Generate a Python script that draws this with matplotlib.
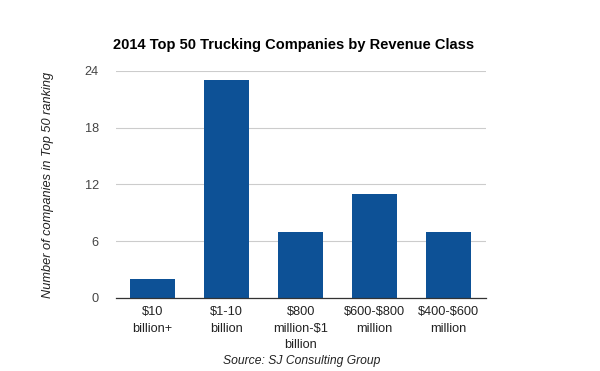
import matplotlib.pyplot as plt

plt.rcParams['font.family'] = ['Liberation Sans', 'DejaVu Sans']
plt.rcParams['text.parse_math'] = False

categories = ["$10\nbillion+", "$1-10\nbillion", "$800\nmillion-$1\nbillion",
              "$600-$800\nmillion", "$400-$600\nmillion"]
counts = [2, 23, 7, 11, 7]
yticks = [0, 6, 12, 18, 24]

fig = plt.figure(figsize=(6, 3.71), dpi=100)
ax = fig.add_axes([0.1925, 0.1968, 0.617, 0.612])

x = range(len(categories))
ax.bar(x, counts, width=0.61, color="#0d5196", zorder=3)

ax.set_xlim(-0.5, len(categories) - 0.5)
ax.set_ylim(0, 24)
ax.set_yticks(yticks)
ax.set_xticks(list(x))
ax.set_xticklabels(categories, fontsize=9.2, color="#222222", linespacing=1.5)
ax.tick_params(axis='y', labelsize=9.2, labelcolor="#444444", length=0, pad=12)
ax.tick_params(axis='x', length=0, pad=6)
ax.grid(axis='y', color="#cccccc", linewidth=0.8, zorder=0)
for s in ['top', 'right', 'left']:
    ax.spines[s].set_visible(False)
ax.spines['bottom'].set_color("#333333")
ax.spines['bottom'].set_linewidth(0.9)
ax.spines['bottom'].set_zorder(4)

ax.set_ylabel("Number of companies in Top 50 ranking", fontsize=9.2,
              style='italic', color="#222222", labelpad=22)

fig.text(0.49, 0.878, "2014 Top 50 Trucking Companies by Revenue Class",
         ha='center', va='center', fontsize=10.5, fontweight='bold')
fig.text(0.502, 0.027, "Source: SJ Consulting Group", ha='center', va='center',
         fontsize=8.7, style='italic', color="#222222")

plt.savefig('out.png', dpi=100)
